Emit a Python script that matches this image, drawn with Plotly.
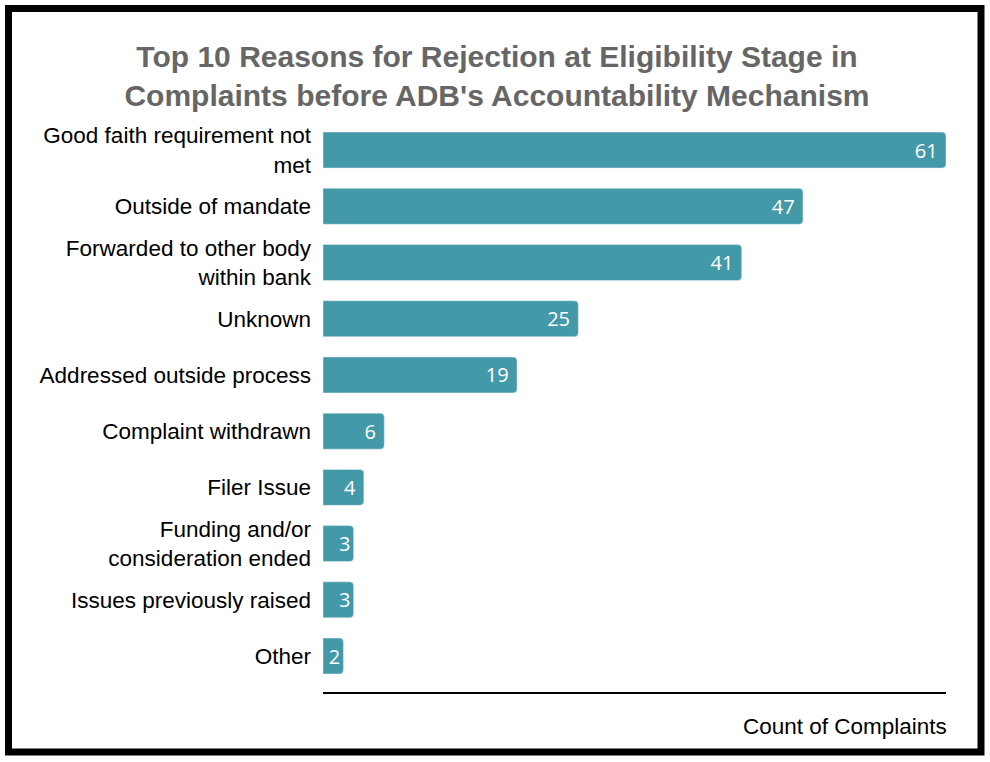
import plotly.graph_objects as go

reasons = [
    "Good faith requirement not<br>met",
    "Outside of mandate",
    "Forwarded to other body<br>within bank",
    "Unknown",
    "Addressed outside process",
    "Complaint withdrawn",
    "Filer Issue",
    "Funding and/or<br>consideration ended",
    "Issues previously raised",
    "Other",
]
counts = [61, 47, 41, 25, 19, 6, 4, 3, 3, 2]

W, H = 990, 762
ml, mr, mt, mb = 323, 44, 122, 70
pw, ph = W - ml - mr, H - mt - mb

# a little extra room after the number inside the wider bars
labels = [f"{c}\u00a0" if c >= 4 else str(c) for c in counts]

fig = go.Figure(go.Bar(
    x=counts,
    y=reasons,
    orientation="h",
    marker=dict(color="#4499a9", cornerradius=4),
    text=labels,
    textposition="inside",
    insidetextanchor="end",
    textfont=dict(family="Open Sans", size=20, color="white"),
    hoverinfo="skip",
))

# outer frame, given in pixels and turned into paper units
def px(x):
    return (x - ml) / pw

def py(y):
    return 1 - (y - mt) / ph

fig.add_shape(type="rect", xref="paper", yref="paper",
              x0=px(8.5), x1=px(981), y0=py(752), y1=py(8.5),
              line=dict(color="black", width=7))

fig.update_layout(
    width=W, height=H,
    margin=dict(l=ml, r=mr, t=mt, b=mb),
    paper_bgcolor="white", plot_bgcolor="white",
    title=dict(
        text="Top 10 Reasons for Rejection at Eligibility Stage in<br>Complaints before ADB's Accountability Mechanism",
        x=0.502, xanchor="center", yref="container", y=1 - 67 / H, yanchor="middle",
        font=dict(family="Liberation Sans", size=30, color="#666666", weight="bold"),
    ),
    bargap=0.36,
    showlegend=False,
    font=dict(family="Liberation Sans", size=22.5, color="black"),
)
fig.update_xaxes(range=[0, 61], showgrid=False, showticklabels=False, ticks="",
                 showline=True, linecolor="black", linewidth=1.5, zeroline=False,
                 title=None)
fig.update_yaxes(categoryorder="array", categoryarray=reasons,
                 range=[9.64, -0.5], showgrid=False, ticks="", ticklabelstandoff=11,
                 tickfont=dict(family="Liberation Sans", size=22.5, color="black"))
fig.add_annotation(text="Count of Complaints", xref="paper", yref="paper",
                   x=1, xshift=3, y=py(726), xanchor="right", yanchor="middle",
                   showarrow=False,
                   font=dict(family="Liberation Sans", size=22.5, color="black"))

# the page adds a body margin by default; drop it so the figure fills the window
fig.write_html("out.html", config={"displayModeBar": False},
               post_script="document.body.style.margin='0';")
